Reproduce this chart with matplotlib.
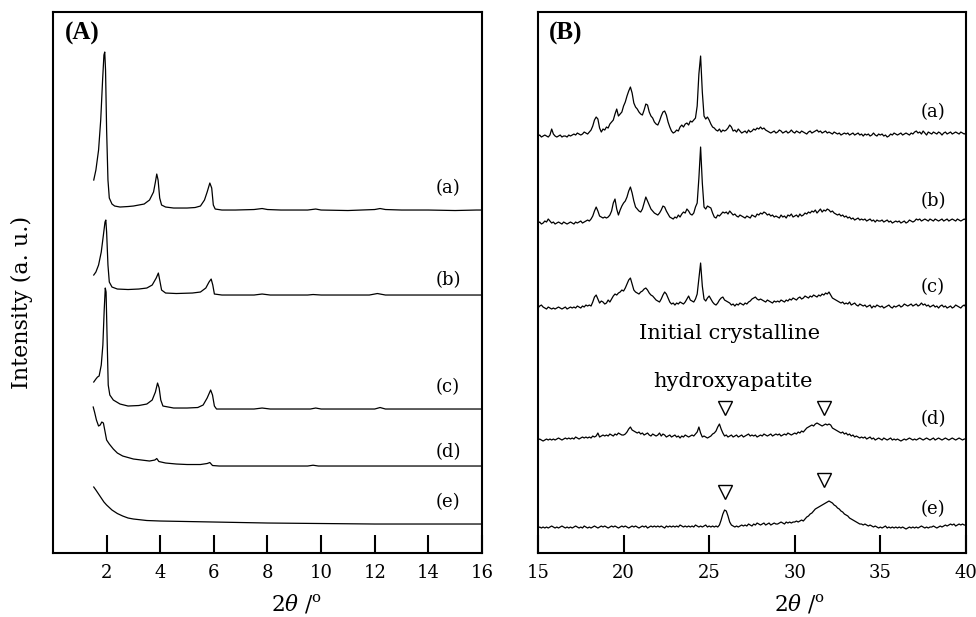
import numpy as np
import matplotlib
matplotlib.use("Agg")
import matplotlib.pyplot as plt

plt.rcParams['font.family'] = 'DejaVu Serif'
plt.rcParams['mathtext.fontset'] = 'dejavuserif'

# ---- panel A: low angle scans, (2theta, intensity above own baseline) ----
a_a_x = [1.52, 1.6, 1.7, 1.78, 1.85, 1.9, 1.93, 1.96, 2.0, 2.05, 2.1, 2.2, 2.3, 2.5, 2.8, 3.0, 3.2, 3.4,
         3.6, 3.75, 3.82, 3.87, 3.92, 3.98, 4.05, 4.2, 4.5, 5.0, 5.3, 5.5, 5.65, 5.75, 5.85, 5.92, 5.98,
         6.05, 6.3, 6.8, 7.5, 7.8, 8.0, 8.5, 9.5, 9.8, 10.0, 11.0, 12.0, 12.2, 12.4, 13.0, 14.0, 15.0, 15.8, 16.0]
a_a_y = [30, 40, 60, 90, 130, 155, 158, 140, 80, 30, 12, 6, 4, 3, 3.5, 4, 5, 6,
         10, 18, 28, 36, 30, 12, 5, 3, 2, 2, 2.5, 4, 10, 18, 27, 22, 5,
         1, 0, 0, 0.5, 1.5, 0.5, 0, 0, 1, 0, -0.5, 0.5, 1.5, 0.5, 0, 0, -0.5, 0, 0]

a_b_x = [1.52, 1.6, 1.7, 1.8, 1.88, 1.94, 1.97, 2.0, 2.05, 2.1, 2.2, 2.4, 2.8, 3.2, 3.5, 3.7, 3.85, 3.93,
         3.98, 4.05, 4.2, 4.6, 5.2, 5.5, 5.7, 5.82, 5.9, 5.96, 6.02, 6.3, 7.5, 7.8, 8.1, 9.5, 9.7, 10.0,
         11.8, 12.1, 12.4, 14.0, 16.0]
a_b_y = [20, 23, 30, 43, 60, 73, 75, 63, 30, 13, 8, 6, 5.5, 6, 7, 10, 17, 22,
         15, 5, 2, 1.5, 2, 3, 7, 13, 16, 10, 1, 0, 0, 1, 0, 0, 0.5, 0,
         0, 1.5, 0, 0, 0]

a_c_x = [1.52, 1.6, 1.66, 1.72, 1.8, 1.86, 1.91, 1.95, 1.98, 2.02, 2.06, 2.12, 2.25, 2.5, 2.8, 3.2, 3.5,
         3.7, 3.82, 3.9, 3.96, 4.02, 4.1, 4.5, 5.0, 5.4, 5.6, 5.75, 5.88, 5.95, 6.02, 6.1, 7.5, 7.8, 8.1,
         9.6, 9.8, 10.0, 12.0, 12.2, 12.4, 16.0]
a_c_y = [27, 30, 32, 33, 44, 64, 99, 121, 117, 69, 24, 14, 9, 5, 3, 3.5, 5,
         9, 17, 26, 21, 9, 3, 1, 1, 1.5, 4, 11, 19, 14, 3, 0, 0, 1, 0,
         0, 1, 0, 0, 1.5, 0, 0]

a_d_x = [1.5, 1.55, 1.62, 1.7, 1.76, 1.82, 1.88, 1.93, 2.0, 2.1, 2.25, 2.4, 2.6, 2.8, 3.0, 3.3, 3.6, 3.8,
         3.87, 3.95, 4.2, 4.6, 5.0, 5.5, 5.75, 5.85, 5.95, 6.2, 9.5, 9.7, 9.9, 16.0]
a_d_y = [59, 54, 46, 40, 41, 44, 43, 36, 26, 22, 17, 13, 10, 8.5, 7, 6, 5, 6,
         7.5, 4.5, 3, 2, 1.5, 1.5, 2.5, 3.5, 0.5, 0, 0, 0.8, 0, 0]

a_e_x = [1.52, 1.6, 1.7, 1.8, 1.9, 2.0, 2.2, 2.4, 2.6, 2.8, 3.0, 3.5, 4.0, 5.0, 6.0, 8.0, 10.0, 12.0, 16.0]
a_e_y = [37, 34, 30, 26, 22, 19, 14, 10.5, 8, 6, 5, 3.5, 3, 2.5, 2, 1, 0.5, 0, 0]

a_offsets = [343, 258, 144, 87, 29]
a_labels = ['(a)', '(b)', '(c)', '(d)', '(e)']
a_label_y = [365, 273, 166, 101, 51]

# ---- panel B: wide angle scans, 0.1 deg step from 15 to 40 ----
two_theta_b = np.round(np.arange(150, 401) / 10, 1)

b_a = [0, 1, -1, 0, 1, 0, -1, 1, 7, 2,
       0, -1, 0, 1, -1, 0, 0, -1, 1, 0,
       1, 2, 1, 3, 2, 1, 2, 4, 3, 2,
       4, 6, 10, 16, 19, 17, 8, 4, 7, 6,
       9, 8, 12, 14, 16, 22, 27, 20, 22, 24,
       30, 34, 40, 45, 49, 43, 33, 29, 27, 24,
       22, 21, 26, 32, 31, 24, 20, 18, 14, 12,
       11, 15, 20, 24, 25, 21, 14, 9, 5, 3,
       4, 6, 5, 9, 11, 9, 12, 13, 11, 15,
       14, 16, 18, 30, 62, 80, 44, 20, 17, 19,
       16, 12, 9, 8, 6, 5, 7, 4, 6, 5,
       6, 8, 11, 9, 5, 6, 4, 7, 5, 3,
       4, 5, 3, 6, 4, 5, 7, 6, 8, 7,
       9, 7, 8, 6, 5, 4, 3, 4, 5, 3,
       4, 6, 5, 3, 4, 5, 3, 4, 6, 4,
       3, 5, 4, 3, 5, 4, 3, 2, 4, 5,
       3, 4, 5, 6, 4, 5, 3, 4, 5, 3,
       4, 3, 2, 4, 3, 2, 3, 1, 2, 3,
       2, 3, 1, 2, 3, 1, 2, 3, 1, 2,
       0, 2, 1, 2, 0, 1, 3, 1, 0, 2,
       1, 2, 0, 1, -1, 0, 2, 1, 3, 2,
       1, 2, 3, 1, 2, 3, 2, 1, 3, 2,
       4, 5, 3, 4, 2, 5, 3, 1, 4, 3,
       2, 4, 3, 2, 4, 3, 1, 3, 4, 2,
       3, 4, 2, 3, 4, 3, 2, 4, 3, 2,
       3]

b_b = [0, 1, -1, 0, 2, 1, 4, 2, 0, 1,
       -1, 0, 1, 0, -1, 1, 0, -1, 0, 1,
       0, -1, 1, 0, 1, 2, 0, 1, 2, 3,
       2, 4, 7, 12, 16, 12, 7, 6, 5, 6,
       5, 6, 8, 12, 20, 24, 14, 8, 13, 17,
       20, 22, 26, 32, 36, 30, 22, 16, 14, 12,
       11, 14, 20, 26, 22, 18, 14, 12, 10, 9,
       8, 10, 13, 17, 16, 12, 9, 6, 5, 4,
       6, 5, 8, 6, 9, 11, 10, 14, 12, 9,
       8, 10, 16, 20, 45, 76, 40, 16, 14, 17,
       16, 15, 10, 6, 5, 8, 7, 9, 11, 10,
       11, 9, 12, 10, 8, 9, 7, 6, 8, 7,
       6, 5, 7, 6, 5, 8, 7, 6, 9, 8,
       10, 9, 11, 10, 8, 9, 7, 8, 6, 7,
       6, 5, 8, 6, 7, 5, 8, 7, 9, 6,
       7, 8, 6, 9, 7, 8, 10, 9, 11, 10,
       12, 11, 13, 10, 12, 14, 11, 13, 12, 14,
       13, 11, 12, 10, 9, 8, 9, 7, 8, 6,
       7, 5, 6, 4, 5, 3, 4, 5, 3, 4,
       3, 4, 2, 3, 4, 2, 3, 1, 3, 2,
       2, 3, 1, 2, 3, 1, 2, 0, 1, 2,
       1, 2, 0, 1, 2, 0, 1, 3, 2, 1,
       2, 4, 3, 4, 2, 3, 4, 3, 2, 4,
       3, 2, 4, 3, 2, 3, 4, 2, 3, 4,
       2, 3, 4, 3, 2, 4, 3, 2, 3, 4,
       3]

b_c = [0, 2, 3, 1, 0, -1, 1, 0, -1, 0,
       -1, 0, 1, 0, -1, 0, 1, -1, 0, 1,
       0, 1, 0, 2, 1, 0, 2, 1, 3, 2,
       3, 2, 6, 11, 13, 9, 5, 7, 6, 4,
       5, 8, 6, 9, 12, 14, 13, 15, 16, 18,
       17, 20, 24, 28, 30, 24, 18, 16, 15, 14,
       16, 17, 19, 20, 18, 15, 13, 12, 10, 8,
       7, 6, 9, 13, 16, 14, 10, 6, 4, 5,
       3, 5, 4, 6, 5, 4, 6, 9, 12, 8,
       7, 6, 9, 14, 30, 45, 22, 9, 7, 10,
       12, 9, 6, 4, 3, 5, 8, 10, 11, 8,
       7, 6, 5, 3, 4, 2, 4, 3, 5, 4,
       3, 5, 4, 6, 7, 9, 10, 11, 9, 8,
       9, 8, 7, 6, 8, 7, 6, 5, 7, 6,
       7, 6, 8, 7, 6, 8, 7, 9, 8, 10,
       9, 8, 10, 11, 9, 10, 12, 11, 10, 12,
       11, 13, 12, 11, 13, 12, 14, 13, 15, 14,
       16, 13, 10, 9, 8, 7, 6, 5, 6, 4,
       5, 4, 6, 3, 4, 5, 3, 2, 4, 3,
       2, 3, 1, 2, 3, 0, 2, 1, 3, 2,
       1, 2, 0, 1, 2, 3, 1, 0, 2, 1,
       2, 3, 1, 2, 4, 3, 2, 3, 4, 2,
       3, 4, 2, 3, 5, 3, 4, 2, 3, 1,
       2, 3, 1, 2, 0, 2, 3, 1, 2, 0,
       1, 2, 0, 1, 3, 2, 1, 0, 2, 3,
       1]

b_d = [0, 1, 0, -1, 0, 1, 0, 1, 0, 1,
       0, 1, 2, 1, 0, 1, 2, 1, 2, 1,
       2, 1, 3, 2, 1, 2, 3, 2, 3, 2,
       3, 2, 4, 3, 4, 7, 3, 4, 5, 4,
       5, 4, 6, 5, 4, 6, 5, 7, 6, 5,
       5, 6, 8, 11, 13, 10, 9, 8, 7, 8,
       6, 7, 5, 6, 7, 5, 4, 6, 5, 4,
       5, 7, 4, 6, 5, 3, 4, 5, 3, 4,
       5, 3, 4, 2, 4, 3, 5, 4, 3, 4,
       5, 4, 6, 8, 13, 7, 3, 4, 3, 2,
       3, 4, 6, 7, 9, 13, 16, 11, 7, 4,
       5, 3, 4, 5, 3, 4, 5, 3, 4, 5,
       3, 4, 5, 6, 4, 5, 4, 5, 3, 4,
       5, 4, 6, 5, 4, 5, 6, 4, 5, 6,
       5, 6, 4, 5, 6, 5, 7, 6, 5, 6,
       7, 6, 8, 7, 9, 8, 10, 12, 13, 14,
       15, 14, 16, 17, 16, 15, 14, 15, 16, 15,
       16, 15, 12, 11, 10, 9, 8, 7, 8, 6,
       7, 5, 6, 4, 5, 3, 4, 3, 2, 3,
       2, 3, 1, 2, 3, 1, 2, 0, 1, 2,
       1, 0, 2, 1, 0, 1, 2, 0, 1, 0,
       1, 0, -1, 0, 1, 0, 1, 2, 1, 0,
       1, 0, 1, 2, 1, 0, 1, 2, 1, 0,
       1, 2, 0, 1, 2, 1, 0, 1, 2, 1,
       0, 1, 2, 1, 0, 1, 2, 1, 0, 1,
       1]

b_e = [0, 1, 0, 1, 0, 1, 0, 1, 2, 1,
       0, 1, 0, 1, 2, 1, 0, 1, 0, 1,
       0, 1, 2, 1, 0, 1, 0, 2, 1, 0,
       1, 0, 1, 2, 1, 0, 1, 2, 1, 2,
       1, 0, 1, 2, 1, 2, 1, 0, 1, 2,
       1, 2, 1, 0, 1, 2, 1, 2, 1, 0,
       1, 2, 1, 2, 0, 1, 2, 1, 2, 1,
       2, 1, 2, 1, 0, 2, 1, 2, 1, 2,
       1, 2, 1, 3, 2, 1, 2, 1, 2, 1,
       2, 1, 3, 2, 1, 2, 1, 2, 3, 1,
       2, 1, 2, 1, 2, 1, 3, 8, 14, 18,
       17, 12, 6, 3, 2, 1, 2, 1, 2, 3,
       2, 3, 2, 4, 3, 2, 4, 3, 5, 4,
       3, 4, 5, 3, 4, 5, 3, 4, 5, 4,
       4, 5, 6, 5, 4, 6, 5, 6, 5, 6,
       6, 7, 6, 7, 8, 7, 9, 11, 12, 14,
       15, 17, 19, 20, 21, 22, 23, 24, 25, 26,
       27, 26, 25, 23, 22, 20, 19, 17, 16, 14,
       13, 12, 10, 9, 8, 7, 6, 5, 4, 4,
       3, 4, 3, 2, 3, 2, 1, 2, 1, 0,
       1, 0, 1, 2, 0, 1, 0, 1, 0, 1,
       0, 1, 0, 1, 0, -1, 0, 1, 0, 1,
       0, 1, 0, 1, 2, 1, 0, 1, 0, 1,
       1, 2, 1, 0, 1, 2, 1, 2, 3, 2,
       3, 4, 3, 4, 2, 3, 4, 3, 4, 3,
       3]

b_offsets = [417, 330, 245, 113, 25]
b_label_y = [441, 352, 266, 134, 44]

# hydroxyapatite reflections marked with open triangles
hap_x = [25.9, 31.7]
hap_y_d = [145, 145]
hap_y_e = [61, 73]

fig = plt.figure(figsize=(9.76, 6.17), dpi=100)
ax1 = fig.add_axes([0.0543, 0.1037, 0.4395, 0.8768])
ax2 = fig.add_axes([0.5512, 0.1037, 0.4385, 0.8768])

line_kw = dict(color='black', linewidth=0.9)
a_x = [a_a_x, a_b_x, a_c_x, a_d_x, a_e_x]
a_y = [a_a_y, a_b_y, a_c_y, a_d_y, a_e_y]
for xs, ys, off, lab, ly in zip(a_x, a_y, a_offsets, a_labels, a_label_y):
    ax1.plot(xs, np.array(ys) + off, **line_kw)
    ax1.text(14.73, ly, lab, ha='center', va='center', fontsize=13)

b_y = [b_a, b_b, b_c, b_d, b_e]
for ys, off, lab, ly in zip(b_y, b_offsets, a_labels, b_label_y):
    ax2.plot(two_theta_b, np.array(ys) + off, **line_kw)
    ax2.text(38.08, ly, lab, ha='center', va='center', fontsize=13)

ax2.plot(hap_x, hap_y_d, linestyle='none', marker='v', ms=10, mfc='white', mec='black', mew=1)
ax2.plot(hap_x, hap_y_e, linestyle='none', marker='v', ms=10, mfc='white', mec='black', mew=1)
ax2.text(26.2, 220, 'Initial crystalline', ha='center', va='center', fontsize=15)
ax2.text(26.4, 172, 'hydroxyapatite', ha='center', va='center', fontsize=15)

ax1.set_xlim(0, 16)
ax1.set_xticks([2, 4, 6, 8, 10, 12, 14, 16])
ax2.set_xlim(15, 40)
ax2.set_xticks([15, 20, 25, 30, 35, 40])
for ax in (ax1, ax2):
    ax.set_ylim(0, 541)
    ax.set_yticks([])
    ax.tick_params(axis='x', direction='in', length=13, width=1.5, labelsize=13, pad=8)
    for s in ax.spines.values():
        s.set_linewidth(1.5)

ax1.text(0.028, 0.96, '(A)', transform=ax1.transAxes, fontsize=18, fontweight='bold',
         family='Liberation Serif', va='center', ha='left')
ax2.text(0.026, 0.96, '(B)', transform=ax2.transAxes, fontsize=18, fontweight='bold',
         family='Liberation Serif', va='center', ha='left')

fig.text(22 / 976, 1 - 302 / 617, 'Intensity (a. u.)', rotation=90, ha='center', va='center', fontsize=16)
fig.text(297 / 976, 1 - 604 / 617, r'2$\theta$ /$^{\mathrm{o}}$', ha='center', va='center', fontsize=15.5)
fig.text(800 / 976, 1 - 604 / 617, r'2$\theta$ /$^{\mathrm{o}}$', ha='center', va='center', fontsize=15.5)

fig.savefig('out.png', dpi=100)
